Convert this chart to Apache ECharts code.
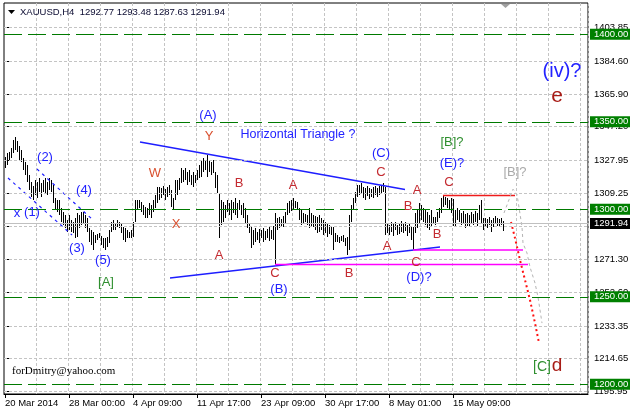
<!DOCTYPE html>
<html><head><meta charset="utf-8">
<script src="https://cdn.jsdelivr.net/npm/echarts@6/dist/echarts.min.js"></script>
<style>html,body{margin:0;padding:0;background:#fff}#c{width:630px;height:412px}</style>
</head><body><div id="c"></div>
<script>
// ---------- data ----------
const symbolName = 'XAUUSD,H4';
const lastOHLC = [1292.77, 1293.48, 1287.63, 1291.94];

const highs = [
1329.9,1332.2,1332.7,1335.0,1339.6,1341.3,1339.0,1336.2,1333.9,1329.3,
1327.0,1325.3,1319.6,1315.6,1313.3,1316.7,1315.6,1317.9,1315.0,1316.7,
1317.9,1315.6,1317.9,1316.7,1313.9,1306.5,1305.3,1305.3,1300.7,1298.5,
1296.7,1293.9,1296.7,1293.9,1292.7,1295.0,1297.9,1296.7,1298.5,1298.5,
1296.7,1295.0,1289.3,1288.2,1287.0,1285.3,1285.9,1286.5,1284.7,1283.6,
1283.6,1284.2,1288.2,1292.7,1293.9,1292.2,1293.9,1292.7,1292.2,1289.9,
1289.3,1288.2,1287.0,1288.2,1292.7,1305.3,1305.3,1305.3,1304.2,1302.5,
1301.3,1300.7,1303.6,1302.5,1305.3,1308.2,1312.7,1312.7,1312.2,1313.3,
1311.6,1312.7,1313.9,1311.0,1306.5,1316.7,1316.7,1317.9,1323.6,1322.5,
1323.6,1321.3,1322.5,1319.6,1321.3,1319.6,1322.5,1325.3,1328.2,1329.3,
1328.2,1331.0,1328.2,1327.0,1328.2,1321.3,1319.6,1309.3,1305.3,1304.2,
1302.5,1305.3,1303.6,1305.3,1304.2,1306.5,1303.6,1305.3,1302.5,1303.6,
1300.7,1296.7,1292.2,1289.9,1288.2,1289.3,1287.0,1288.7,1288.2,1289.3,
1287.6,1288.7,1289.9,1288.2,1290.5,1297.9,1295.0,1295.6,1294.5,1296.2,
1298.5,1303.6,1304.7,1305.3,1306.5,1304.7,1304.2,1300.7,1299.6,1297.9,
1297.3,1296.7,1300.7,1297.9,1296.7,1296.2,1295.6,1296.7,1295.0,1293.9,
1292.7,1292.2,1291.0,1289.9,1289.9,1286.5,1285.3,1284.2,1284.7,1285.3,
1283.6,1284.2,1296.7,1302.5,1306.5,1309.9,1313.9,1313.9,1315.0,1312.7,
1312.2,1313.3,1312.2,1311.6,1312.7,1313.3,1312.2,1313.3,1313.9,1315.0,
1312.7,1292.2,1291.0,1292.7,1291.6,1292.7,1291.0,1292.2,1293.3,1291.6,
1292.7,1291.0,1292.2,1290.5,1289.9,1297.9,1299.6,1303.6,1302.5,1300.7,
1299.6,1298.5,1296.7,1299.6,1295.6,1295.6,1298.5,1300.7,1306.5,1307.9,
1307.0,1306.5,1305.3,1306.5,1305.9,1299.6,1300.7,1299.6,1297.9,1299.0,
1297.3,1297.9,1296.7,1298.5,1297.3,1299.0,1297.9,1302.5,1305.3,1295.0,
1295.0,1294.5,1295.6,1293.9,1295.0,1296.2,1295.0,1294.5,1295.0,1293.48
];
const lows = [
1323.6,1325.3,1328.2,1329.3,1332.2,1333.9,1332.7,1328.2,1327.0,1322.5,
1319.6,1315.6,1311.0,1307.0,1305.3,1308.2,1306.5,1309.9,1307.0,1309.9,
1309.3,1308.2,1311.0,1309.9,1303.6,1299.6,1298.5,1296.7,1292.7,1291.0,
1289.3,1287.0,1288.2,1287.0,1286.5,1283.6,1284.2,1289.3,1291.0,1292.2,
1289.3,1287.0,1281.3,1279.6,1276.7,1280.7,1282.5,1283.6,1279.6,1277.9,
1276.7,1278.5,1280.7,1287.0,1288.2,1288.2,1289.9,1289.3,1286.5,1282.5,
1281.3,1283.6,1283.6,1283.6,1284.2,1292.7,1299.6,1300.7,1298.5,1296.7,
1295.0,1295.0,1296.7,1295.0,1298.5,1300.7,1303.6,1305.3,1306.5,1308.2,
1305.3,1307.0,1308.2,1301.3,1299.6,1305.3,1308.2,1311.0,1315.0,1315.6,
1316.7,1313.9,1315.6,1313.9,1312.7,1315.0,1316.7,1317.9,1318.5,1321.3,
1322.5,1318.5,1321.3,1319.6,1320.7,1312.2,1309.3,1283.6,1291.0,1292.7,
1295.0,1298.5,1296.7,1293.9,1297.9,1296.7,1295.0,1299.6,1296.7,1295.0,
1292.2,1289.3,1286.5,1277.9,1279.6,1281.3,1282.5,1280.7,1283.6,1281.3,
1282.5,1283.6,1281.9,1283.0,1282.5,1268.5,1288.2,1289.3,1290.5,1289.9,
1291.6,1296.7,1297.9,1299.0,1299.6,1300.7,1299.6,1293.9,1291.0,1292.2,
1292.7,1291.0,1289.3,1290.5,1289.9,1288.2,1286.5,1287.0,1288.2,1285.3,
1286.5,1284.2,1285.9,1285.3,1276.7,1281.3,1281.3,1280.7,1281.9,1281.3,
1279.0,1273.9,1276.7,1292.7,1299.6,1303.6,1307.0,1308.2,1309.3,1306.5,
1305.3,1307.6,1305.9,1307.0,1306.5,1308.2,1307.0,1308.2,1309.3,1309.9,
1285.3,1286.5,1285.3,1287.0,1284.7,1288.2,1285.3,1285.9,1287.0,1286.5,
1287.6,1284.7,1286.5,1282.5,1276.7,1286.5,1289.3,1292.2,1293.9,1292.7,
1291.0,1289.3,1288.2,1290.5,1292.2,1291.0,1292.7,1295.0,1297.9,1301.3,
1302.5,1300.7,1299.6,1297.9,1290.5,1289.9,1293.9,1292.7,1291.0,1291.6,
1289.3,1290.5,1289.9,1292.2,1291.0,1292.7,1290.5,1293.9,1292.2,1288.2,
1290.5,1289.3,1291.0,1287.0,1289.9,1291.6,1290.5,1289.9,1291.0,1287.63
];

const totalSlots = 292;
const timeLabelIdx = [0, 32, 64, 96, 128, 160, 192, 224];
const timeLabels = ['20 Mar 2014', '28 Mar 00:00', '4 Apr 09:00', '11 Apr 17:00', '23 Apr 09:00', '30 Apr 17:00', '8 May 01:00', '15 May 09:00'];
const priceTicks = [1195.95, 1214.65, 1233.35, 1252.60, 1271.30, 1290.55, 1309.25, 1327.95, 1347.20, 1365.90, 1384.60, 1403.85];
const roundLevels = [1200, 1250, 1300, 1350, 1400];

const upperLine = [[67.5, 1338.5], [200, 1311.3]];
const lowerLine = [[82.5, 1260.7], [217.5, 1278.5]];
const channel1 = [[1.5, 1317.9], [33.5, 1285.3]];
const channel2 = [[16, 1323.0], [44, 1293.9]];
const magenta1 = [[135, 1268.5], [261.5, 1268.5]];
const magenta2 = [[204, 1276.7], [259, 1276.7]];
const redLevel = [[219, 1307.9], [255, 1307.9]];
const grayPath = [[249.5, 1297.9], [252, 1305.5], [254, 1311.5], [256, 1308.5], [258.5, 1290], [259, 1280.7], [261, 1275.0], [262.5, 1267.0], [265, 1257.9], [266.5, 1249.9], [267.5, 1242.5], [268.5, 1235.0]];
const redPath = [[253, 1292.7], [255, 1283.6], [257.5, 1271.0], [260, 1259.6], [262.5, 1248.2], [265, 1235.0], [267, 1223.6]];

const annText = ['x', '(1)', '(2)', '(3)', '(4)', '(5)', '[A]', '(A)', 'Y', 'W', 'X', 'Horizontal Triangle ?',
  'B', 'A', 'A', 'C', '(B)', 'B', '(C)', 'C', 'A', 'B', 'A', 'C', '(D)?', '[B]?', '(E)?', 'C', 'B', '[B]?',
  '(iv)?', 'e', '[C]', 'd'];
const annX = [6, 13.5, 20, 36, 39.5, 49, 50.5, 101.5, 102, 75, 85.5, 146.5,
  117, 107, 144, 135, 137, 172, 188, 188, 206, 201.5, 191, 205.5, 207, 223.5, 223.5, 222, 216, 255,
  278.5, 276, 268.5, 276];
const annY = [1297.9, 1298.5, 1329.9, 1277.9, 1311.0, 1271.0, 1258.5, 1353.9, 1341.9, 1320.7, 1291.6, 1343.0,
  1315.0, 1273.9, 1313.9, 1263.6, 1254.5, 1263.6, 1332.2, 1321.3, 1311.0, 1301.9, 1279.0, 1269.9, 1261.0, 1338.0, 1326.5, 1315.6, 1285.9, 1321.3,
  1378.5, 1364.7, 1209.6, 1210.7];
const annKind = ['blue', 'blue', 'blue', 'blue', 'blue', 'blue', 'green', 'blue', 'orange', 'orange', 'orange', 'title',
  'red', 'red', 'red', 'red', 'blue', 'red', 'blue', 'red', 'red', 'red', 'red', 'red', 'blue', 'green', 'blue', 'red', 'red', 'gray',
  'big', 'brown', 'green2', 'brown2'];

// ---------- styles ----------
const FONT = '"Liberation Sans", Arial, sans-serif';
const kindStyle = {
  blue: { color: '#2222ff', fontSize: 13 },
  red: { color: '#c42a30', fontSize: 13 },
  orange: { color: '#d9502f', fontSize: 13 },
  green: { color: '#2f8f2f', fontSize: 13 },
  green2: { color: '#2f8f2f', fontSize: 14 },
  gray: { color: '#aaaaaa', fontSize: 13 },
  title: { color: '#2222ff', fontSize: 12.5 },
  big: { color: '#2222ff', fontSize: 20 },
  brown: { color: '#a81c16', fontSize: 21 },
  brown2: { color: '#a81c16', fontSize: 19 }
};

const chart = echarts.init(document.getElementById('c'), null, { renderer: 'canvas' });
const categories = Array.from({ length: totalSlots }, (_, i) => String(i));
const labelMap = {};
timeLabelIdx.forEach((k, j) => { labelMap[k] = timeLabels[j]; });

function lineSeries(data, color, width, type, z) {
  return {
    type: 'line', xAxisIndex: 1, yAxisIndex: 0, data: data, showSymbol: false, symbol: 'none',
    silent: true, animation: false, z: z || 4,
    lineStyle: { color: color, width: width, type: type || 'solid', opacity: 1 }
  };
}

const gridMarks = priceTicks.map(v => ({ yAxis: v, lineStyle: { color: '#c4c4c4', type: [3, 2], width: 1 }, label: { show: false } }));
const levelMarks = roundLevels.map(v => ({
  yAxis: v,
  lineStyle: { color: '#007a00', type: [18, 6], width: 1 },
  label: { show: true, position: 'end', distance: 2, formatter: v.toFixed(2), backgroundColor: '#008000', color: '#fff', padding: [1, 3, 0, 4], fontFamily: FONT, fontSize: 9.5 }
}));
const bidMark = {
  yAxis: lastOHLC[3],
  lineStyle: { color: '#c0c0c0', type: 'solid', width: 1 },
  label: { show: true, position: 'end', distance: 2, formatter: lastOHLC[3].toFixed(2), backgroundColor: '#000', color: '#fff', padding: [1, 3, 0, 4], fontFamily: FONT, fontSize: 9.5 }
};

const option = {
  animation: false,
  backgroundColor: '#fff',
  grid: { left: 4, right: 42, top: 3, bottom: 18, show: true, borderColor: '#000', borderWidth: 1, backgroundColor: 'transparent', outerBoundsMode: 'none', containLabel: false },
  xAxis: [
    {
      type: 'category', data: categories, boundaryGap: true,
      axisLine: { show: true, lineStyle: { color: '#000' } },
      axisTick: { show: true, alignWithLabel: true, length: 4, lineStyle: { color: '#000' }, interval: (i) => labelMap[i] !== undefined },
      axisLabel: { show: true, interval: (i) => labelMap[i] !== undefined, formatter: (v, i) => labelMap[i] || '', align: 'left', margin: 4, color: '#000', fontFamily: FONT, fontSize: 9.5 },
      splitLine: { show: true, interval: (i) => i > 0 && i % 16 === 0, lineStyle: { color: '#c4c4c4', type: [3, 2], width: 1 } }
    },
    { type: 'value', min: -0.5, max: totalSlots - 0.5, show: false }
  ],
  yAxis: [{
    type: 'value', position: 'right', min: 1194.47, max: 1417.89, scale: true,
    axisLine: { show: false },
    splitLine: { show: false },
    axisTick: { show: true, length: 4, customValues: priceTicks, lineStyle: { color: '#000' } },
    axisLabel: { show: true, customValues: priceTicks, formatter: v => Number(v).toFixed(2), margin: 6, color: '#000', fontFamily: FONT, fontSize: 9.5 }
  }],
  series: [
    {
      type: 'line', xAxisIndex: 1, yAxisIndex: 0, data: [], z: 1, silent: true,
      markLine: { silent: true, symbol: 'none', animation: false, data: gridMarks.concat(levelMarks).concat([bidMark]) }
    },
    {
      type: 'custom', xAxisIndex: 1, yAxisIndex: 0, z: 3, silent: true,
      data: highs.map((h, i) => [i, lows[i], h]),
      encode: { x: 0, y: [1, 2] },
      renderItem: (params, api) => {
        const i = api.value(0);
        const top = api.coord([i, api.value(2)]);
        const bot = api.coord([i, api.value(1)]);
        return {
          type: 'rect',
          shape: { x: Math.floor(top[0]), y: Math.round(top[1]), width: 1, height: Math.max(1, Math.round(bot[1] - top[1])) },
          style: { fill: '#000' }
        };
      }
    },
    lineSeries(upperLine, '#1e1eff', 1.5),
    lineSeries(lowerLine, '#1e1eff', 1.5),
    lineSeries(channel1, '#1e1eff', 1.2, [3, 4]),
    lineSeries(channel2, '#1e1eff', 1.2, [3, 4]),
    lineSeries(magenta1, '#ff00ff', 1.5),
    lineSeries(magenta2, '#ff00ff', 1.5),
    lineSeries(redLevel, '#ee1c1c', 1.5),
    lineSeries(grayPath, '#b4b4b4', 1, [3, 3]),
    lineSeries(redPath, '#ff1010', 2, [2, 3]),
    {
      type: 'scatter', xAxisIndex: 1, yAxisIndex: 0, z: 6, silent: true, symbolSize: 1,
      itemStyle: { color: 'rgba(0,0,0,0)', opacity: 1 },
      data: annText.map((t, k) => ({
        value: [annX[k], annY[k]],
        label: Object.assign({ show: true, position: 'inside', formatter: t, fontFamily: FONT, opacity: 1, textBorderWidth: 0 }, kindStyle[annKind[k]])
      }))
    }
  ],
  graphic: [
    { type: 'polygon', shape: { points: [[8, 10], [15, 10], [11.5, 14]] }, style: { fill: '#000' }, z: 10 },
    { type: 'text', x: 20, y: 12, style: { text: symbolName + '  ' + lastOHLC.map(v => v.toFixed(2)).join(' '), fill: '#0a0a30', font: '9.5px ' + FONT, textVerticalAlign: 'middle' }, z: 10 },
    { type: 'polygon', shape: { points: [[501, 4], [510, 4], [505.5, 8]] }, style: { fill: '#a0a0a0' }, z: 10 },
    { type: 'text', x: 12, y: 371, style: { text: 'forDmitry@yahoo.com', fill: '#000', font: '11px "Liberation Serif", "Times New Roman", serif', textVerticalAlign: 'middle' }, z: 10 }
  ]
};
chart.setOption(option);
</script>
</body></html>
